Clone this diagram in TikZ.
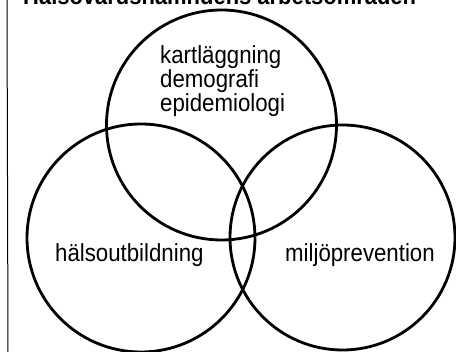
\documentclass[tikz,border=0pt]{standalone}
\usepackage{fontspec}
\setmainfont{Liberation Sans}
\newfontfamily\labelfont[FakeStretch=0.9]{Liberation Sans}
\newfontfamily\titlefont[FakeStretch=0.9]{Liberation Sans Bold}
\begin{document}
\begin{tikzpicture}[x=1pt,y=-1pt,
  ring/.style={draw=black,line width=2.8pt},
  lbl/.style={inner sep=0pt,anchor=base west,font=\labelfont\fontsize{24.7}{22.5}\selectfont},
  ttl/.style={inner sep=0pt,anchor=base west,font=\titlefont\fontsize{24.4}{26}\selectfont}]
\useasboundingbox (0,0) rectangle (456,352);
\fill[white] (0,0) rectangle (456,352);
\coordinate (lt) at (7,0);
\coordinate (lb) at (8,352);
\draw[line width=1pt] (lt) -- (lb);
\node[ttl] (title) at (23,5) {Hälsovårdsnämndens arbetsområden};
\node[ring,circle,minimum size=230pt,inner sep=0pt] (top) at (221.5,125) {};
\node[ring,circle,minimum size=228pt,inner sep=0pt] (left) at (141,238) {};
\node[ring,circle,minimum size=225pt,inner sep=0pt] (right) at (342.5,237.5) {};
\node[lbl,align=left] (k) at (160,112) {kartläggning\\demografi\\epidemiologi};
\node[lbl] (h) at (55,262) {hälsoutbildning};
\node[lbl] (m) at (285,262) {miljöprevention};
\end{tikzpicture}
\end{document}
